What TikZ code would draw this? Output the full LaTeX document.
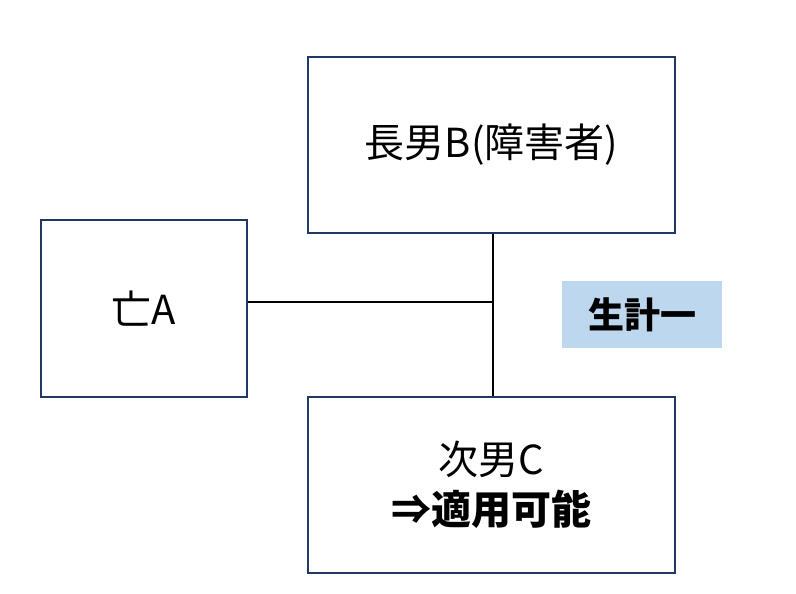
\documentclass[tikz,border=0pt]{standalone}
\usepackage{fontspec}
\setmainfont{Noto Sans CJK JP}
\definecolor{boxc}{HTML}{1F3864}
\definecolor{lbl}{HTML}{BDD7EE}
\begin{document}
\begin{tikzpicture}[x=1pt,y=-1pt,
  box/.style={draw=boxc,line width=1.2pt,fill=white,inner sep=0pt,font=\fontsize{40}{50}\selectfont,align=center},
  conn/.style={line width=2pt,black}]
\useasboundingbox (0,0) rectangle (796,594);
\node[box,minimum width=206,minimum height=177] (a) at (144,308.5) {亡A};
\node[box,minimum width=367,minimum height=176] (b) at (491.5,145) {長男B(障害者)};
\node[box,minimum width=367,minimum height=176] (c) at (491.5,485) {次男C\\\textbf{⇒適用可能}};
\node[fill=lbl,minimum width=160,minimum height=67,inner sep=0pt,font=\fontsize{36}{42}\selectfont\bfseries] (l) at (642,314.5) {生計一};
\coordinate (j) at (493,302);
\draw[conn] (b.south -| j) -- (c.north -| j);
\draw[conn] (a.east |- j) -- (j);
\end{tikzpicture}
\end{document}
